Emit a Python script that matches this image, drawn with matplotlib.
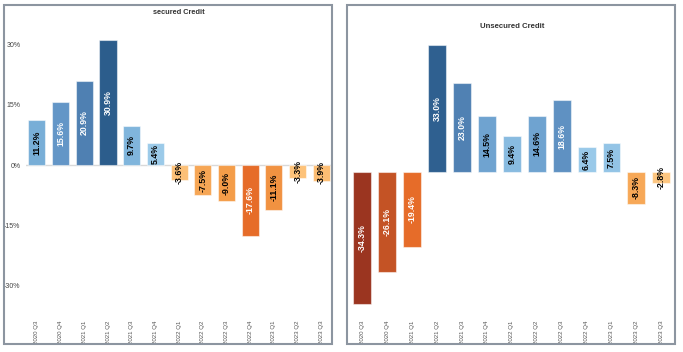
import numpy as np
import matplotlib
matplotlib.use('Agg')
from matplotlib import pyplot as plt
from matplotlib.colors import LinearSegmentedColormap
from matplotlib.patches import Rectangle

# dados
trimestres = ['2020 Q3', '2020 Q4', '2021 Q1', '2021 Q2', '2021 Q3', '2021 Q4', '2022 Q1',
              '2022 Q2', '2022 Q3', '2022 Q4', '2023 Q1', '2023 Q2', '2023 Q3']
secured = [11.2, 15.6, 20.9, 30.9, 9.7, 5.4, -3.6, -7.5, -9.0, -17.6, -11.1, -3.3, -3.9]
unsecured = [-34.3, -26.1, -19.4, 33.0, 23.0, 14.5, 9.4, 14.6, 18.6, 6.4, 7.5, -8.3, -2.8]
ticks_y = [-30, -15, 0, 15, 30]

plt.rcParams['font.family'] = ['Liberation Sans', 'DejaVu Sans']

# paleta divergente laranja-azul
cmap = LinearSegmentedColormap.from_list('orbl', [
    (0.0, '#9b3520'), (0.215, '#e66c29'), (0.35, '#f49c48'), (0.45, '#fdc37a'),
    (0.499, '#fdd39a'), (0.501, '#acd4ee'), (0.585, '#9ccbea'), (0.675, '#7ab0d9'),
    (0.75, '#6497c8'), (0.84, '#4f80b2'), (1.0, '#2c5d8c')])

W, H = 683, 352
fig = plt.figure(figsize=(W / 100, H / 100), dpi=100)


def px_ax(x0, y0, x1, y1):
    # retângulo em pixels (origem no topo) -> coordenadas da figura
    return fig.add_axes([x0 / W, 1 - y1 / H, (x1 - x0) / W, (y1 - y0) / H])


def barras(ax, valores):
    m = max(abs(v) for v in valores)
    x = np.arange(len(valores))
    cores = [cmap(0.5 + v / (2 * m)) for v in valores]
    ax.bar(x, valores, width=0.72, color=cores, edgecolor=(1, 1, 1, 0.5), linewidth=0.8, zorder=3)
    for xi, v in zip(x, valores):
        cor_txt = 'white' if abs(v) / m > 0.48 else 'black'
        ax.text(xi, v / 2, f'{v:.1f}%', rotation=90, ha='center', va='center',
                fontsize=6.3, fontweight='bold', color=cor_txt, zorder=4)
    ax.set_xticks(x)
    ax.set_xticklabels(trimestres, rotation=90, fontsize=4.4, color='#555555', va='top')
    ax.tick_params(axis='x', length=0, pad=4)
    for s in ax.spines.values():
        s.set_visible(False)
    ax.set_facecolor('none')


# painel esquerdo
ax1 = px_ax(26, 30, 332, 315)
barras(ax1, secured)
ax1.set_xlim(-0.46, 12.45)
ax1.set_ylim((165 - 315) / 4.03, (165 - 30) / 4.03)
ax1.set_yticks(ticks_y)
ax1.set_yticklabels([f'{t}%' for t in ticks_y], fontsize=5, color='#444444')
ax1.tick_params(axis='y', length=0, pad=4)
ax1.axhline(0, color='#d9d9d9', linewidth=1, zorder=1)

# painel direito
ax2 = px_ax(349, 30, 673, 315)
barras(ax2, unsecured)
ax2.set_xlim(-0.54, 12.47)
ax2.set_ylim((172 - 315) / 3.85, (172 - 30) / 3.85)
ax2.set_yticks([])

# bordas dos painéis
for x0, x1 in [(4, 332), (347, 675)]:
    fig.patches.append(Rectangle((x0 / W, 1 - 344 / H), (x1 - x0) / W, (344 - 5) / H,
                                 transform=fig.transFigure, fill=False,
                                 edgecolor='#8c95a0', linewidth=1.5))

fig.text(179 / W, 1 - 12 / H, 'secured Credit', ha='center', va='center',
         fontsize=5.3, fontweight='bold', color='#333333')
fig.text(512 / W, 1 - 26 / H, 'Unsecured Credit', ha='center', va='center',
         fontsize=5.6, fontweight='bold', color='#333333')

plt.savefig('out.png', dpi=100)
